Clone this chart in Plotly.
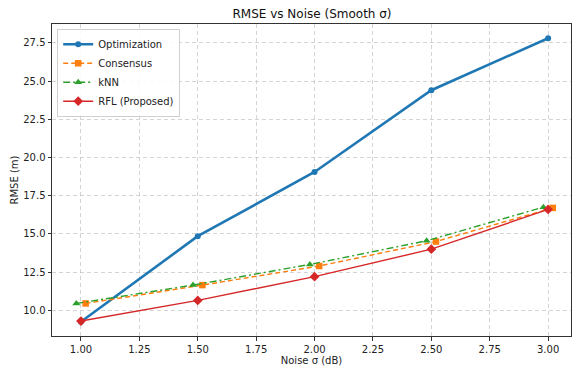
import plotly.graph_objects as go

noise = [1.0, 1.5, 2.0, 2.5, 3.0]
x_consensus = [1.02, 1.52, 2.02, 2.52, 3.02]
x_knn = [0.98, 1.48, 1.98, 2.48, 2.98]

optimization = [9.25, 14.85, 19.05, 24.4, 27.8]
consensus = [10.45, 11.65, 12.9, 14.5, 16.7]
knn = [10.45, 11.65, 13.0, 14.55, 16.75]
rfl = [9.3, 10.65, 12.2, 14.0, 16.6]

x_ticks = [1.0, 1.25, 1.5, 1.75, 2.0, 2.25, 2.5, 2.75, 3.0]
y_ticks = [10.0, 12.5, 15.0, 17.5, 20.0, 22.5, 25.0, 27.5]

FONT = "DejaVu Sans"

fig = go.Figure()
fig.add_trace(go.Scatter(x=noise, y=optimization, name="Optimization", mode="lines+markers",
                         line=dict(color="#1f77b4", width=2.6),
                         marker=dict(symbol="circle", size=6, color="#1f77b4")))
fig.add_trace(go.Scatter(x=x_consensus, y=consensus, name="Consensus", mode="lines+markers",
                         line=dict(color="#ff7f0e", width=1.4, dash="5px,3px"),
                         marker=dict(symbol="square", size=6.5, color="#ff7f0e")))
fig.add_trace(go.Scatter(x=x_knn, y=knn, name="kNN", mode="lines+markers",
                         line=dict(color="#2ca02c", width=1.4, dash="7px,3px,2px,3px"),
                         marker=dict(symbol="triangle-up", size=7, color="#2ca02c")))
fig.add_trace(go.Scatter(x=noise, y=rfl, name="RFL (Proposed)", mode="lines+markers",
                         line=dict(color="#d62728", width=1.4),
                         marker=dict(symbol="diamond", size=7.5, color="#d62728")))

axis_common = dict(
    showline=True, linecolor="#333333", linewidth=1, mirror=True,
    ticks="outside", ticklen=3.5, tickcolor="#333333", tickwidth=1,
    showgrid=True, gridcolor="rgba(176,176,176,0.55)", griddash="4px,3px", gridwidth=1,
    zeroline=False, tickfont=dict(family=FONT, size=10, color="#222222"),
    automargin=False,
)

fig.update_layout(
    width=572, height=371,
    margin=dict(l=52, r=1, t=24, b=35),
    paper_bgcolor="white", plot_bgcolor="white",
    font=dict(family=FONT, size=10, color="#222222"),
    title=dict(text="RMSE vs Noise (Smooth σ)", x=0.5455, xanchor="center", y=0.962, yanchor="middle",
               font=dict(family=FONT, size=12, color="#111111")),
    xaxis=dict(range=[0.876, 3.098], tickvals=x_ticks, tickformat=".2f",
               title=dict(text="Noise σ (dB)", standoff=2, font=dict(family=FONT, size=10)),
               **axis_common),
    yaxis=dict(range=[8.32, 28.73], tickvals=y_ticks, tickformat=".1f",
               title=dict(text="RMSE (m)", standoff=2, font=dict(family=FONT, size=10)),
               **axis_common),
    legend=dict(x=0.01, y=0.985, xanchor="left", yanchor="top",
                bgcolor="rgba(255,255,255,0.85)", bordercolor="#d0d0d0", borderwidth=1,
                font=dict(family=FONT, size=10), itemwidth=30, tracegroupgap=0),
    showlegend=True,
)

fig.write_html("out.html", config={"displayModeBar": False},
               post_script="document.body.style.margin='0';document.body.style.padding='0';")
